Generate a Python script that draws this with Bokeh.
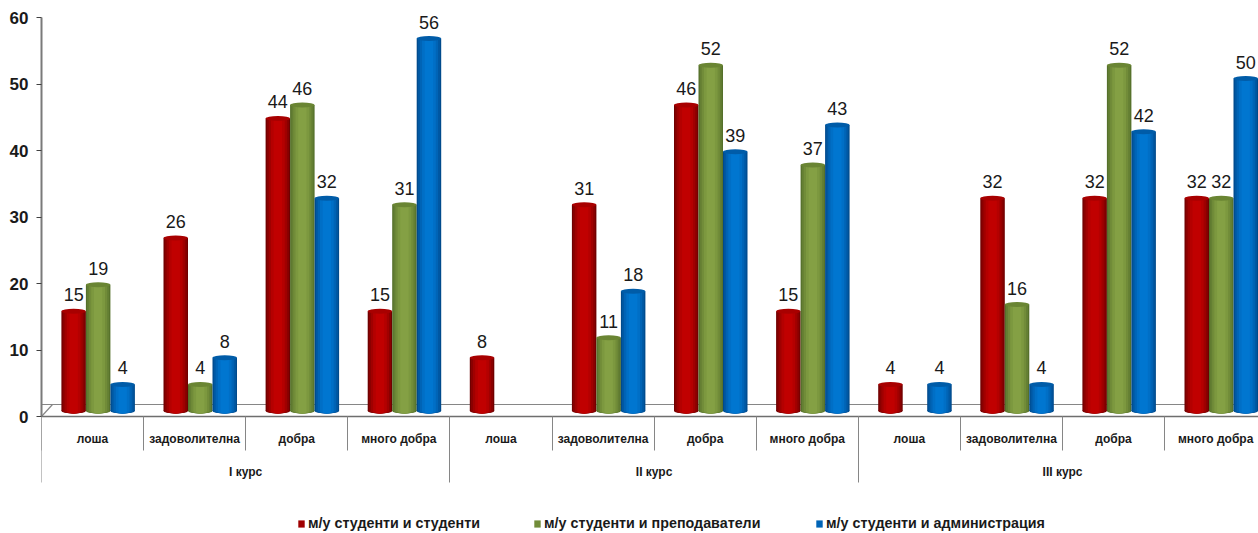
from bokeh.plotting import figure
from bokeh.models import (ColumnDataSource, FixedTicker, Legend, LegendItem, LinearAxis, Range1d)
from bokeh.core.properties import value
from bokeh.embed import file_html
from bokeh.resources import INLINE

ratings = ["лоша", "задоволителна", "добра", "много добра"]
courses = ["I курс", "II курс", "III курс"]
series_names = ["м/у студенти и студенти", "м/у студенти и преподаватели", "м/у студенти и администрация"]
red_values = [15, 26, 44, 15, 8, 31, 46, 15, 4, 32, 32, 32]
green_values = [19, 4, 46, 31, 0, 11, 52, 37, 0, 16, 52, 32]
blue_values = [4, 8, 32, 56, 0, 18, 39, 43, 4, 4, 42, 50]

# cylinder shading: outer (dark) to inner (bright)
shades = [
    ["#6f0000", "#8a0000", "#a00000", "#b40000", "#c00000"],
    ["#55702b", "#647f33", "#718c39", "#7c983f", "#84a044"],
    ["#004a8c", "#0058a3", "#0064b6", "#006fc6", "#0076d0"],
]
caps = ["#a80000", "#6a8533", "#005ca8"]
fractions = [1.0, 0.9, 0.74, 0.56, 0.34]

PX = 6.65           # px per unit
CAT = 102.1         # px per category
DEPTH = 5.5 / PX
BAR = 24.5 / CAT
SHIFT = 5.6 / CAT

p = figure(width=1258, height=533, output_backend="svg", toolbar_location=None,
           x_axis_type=None, y_axis_type=None,
           x_range=Range1d(0, 1217 / CAT), y_range=Range1d(-117 / PX, 60 + 17 / PX),
           min_border_left=41, min_border_right=0, min_border_top=0, min_border_bottom=0,
           outline_line_color=None)
p.grid.visible = False

font = "Liberation Sans"
n_cat = len(ratings) * len(courses)
GRAY = "#868686"

yaxis = LinearAxis(ticker=FixedTicker(ticks=[0, 10, 20, 30, 40, 50, 60]), bounds=(0, 60),
                   axis_line_color="#7a7a7a", axis_line_width=2,
                   major_tick_line_color="#404040", major_tick_in=0, major_tick_out=5,
                   minor_tick_line_color=None, major_label_text_font=font,
                   major_label_text_font_style="bold", major_label_text_font_size="17px",
                   major_label_text_color="#1a1a1a", major_label_standoff=8)
p.add_layout(yaxis, "left")

# floor of the 3D box
p.line([0, 12], [12 / PX, 12 / PX], line_color=GRAY, line_width=1.2)
p.line([0, 11 / CAT], [0, 12 / PX], line_color=GRAY, line_width=1.2)

# level-1 labels
centers = [i + 0.5 for i in range(n_cat)]
cat_labels = {c: ratings[i % 4] for i, c in enumerate(centers)}
ax1 = LinearAxis(ticker=FixedTicker(ticks=centers), major_label_overrides=cat_labels,
                 axis_line_color=None, major_tick_line_color=None, minor_tick_line_color=None,
                 major_label_text_font=font, major_label_text_font_style="bold",
                 major_label_text_font_size="12px", major_label_text_color="#1a1a1a",
                 major_label_standoff=9, fixed_location=0)
p.add_layout(ax1, "below")
# separators between categories
ax2 = LinearAxis(ticker=FixedTicker(ticks=[i for i in range(n_cat + 1)]),
                 major_label_text_font_size="0px", major_label_text_color=None,
                 axis_line_color="#6e6e6e", axis_line_width=1.5,
                 major_tick_line_color=GRAY, major_tick_in=0, major_tick_out=34,
                 minor_tick_line_color=None, fixed_location=0)
p.add_layout(ax2, "below")
# course separators and labels
group_ticks = [0, 4, 8, 12]
ax3 = LinearAxis(ticker=FixedTicker(ticks=group_ticks),
                 major_label_text_font_size="0px", major_label_text_color=None,
                 axis_line_color=None, major_tick_line_color=GRAY, major_tick_in=0, major_tick_out=66,
                 minor_tick_line_color=None, fixed_location=0)
p.add_layout(ax3, "below")
group_centers = [2, 6, 10]
ax4 = LinearAxis(ticker=FixedTicker(ticks=group_centers),
                 major_label_overrides=dict(zip(group_centers, courses)),
                 axis_line_color=None, major_tick_line_color=None, minor_tick_line_color=None,
                 major_label_text_font=font, major_label_text_font_style="bold",
                 major_label_text_font_size="12px", major_label_text_color="#1a1a1a",
                 major_label_standoff=42, fixed_location=0)
p.add_layout(ax4, "below")

legend_x = [256, 492, 774]
series = [red_values, green_values, blue_values]
for s, vals in enumerate(series):
    kept = [i for i, v in enumerate(vals) if v > 0]
    xs = [i + 0.5 + SHIFT + (s - 1) * BAR for i in kept]
    tops = [vals[i] + DEPTH for i in kept]
    src = ColumnDataSource(dict(x=xs, top=tops, bottom=[DEPTH] * len(kept),
                                label=[str(vals[i]) for i in kept]))
    for frac, col in zip(fractions, shades[s]):
        p.ellipse("x", "bottom", width=BAR * frac, height=5, height_units="screen",
                  fill_color=col, line_color=None, source=src)
        p.vbar("x", width=BAR * frac, top="top", bottom="bottom", fill_color=col,
               line_color=None, source=src)
    p.ellipse("x", "top", width=BAR, height=5, height_units="screen",
              fill_color=caps[s], line_color=None, source=src)
    p.text("x", "top", text="label", source=src, text_align="center", text_baseline="bottom",
           y_offset=-10, text_font=value(font), text_font_size="18px", text_color="#1a1a1a")
    swatch = p.quad(left=[-5], right=[-4], bottom=[0], top=[1], fill_color=shades[s][2], line_color=None)
    leg = Legend(items=[LegendItem(label=series_names[s], renderers=[swatch])],
                 location=(legend_x[s], 2), orientation="horizontal", background_fill_alpha=0,
                 border_line_color=None, padding=0, margin=0, glyph_width=8, glyph_height=9,
                 label_standoff=3, label_text_font=font, label_text_font_style="bold",
                 label_text_font_size="14.3px", label_text_color="#1a1a1a")
    p.add_layout(leg, "center")

open("out.html", "w").write(file_html(p, INLINE))
